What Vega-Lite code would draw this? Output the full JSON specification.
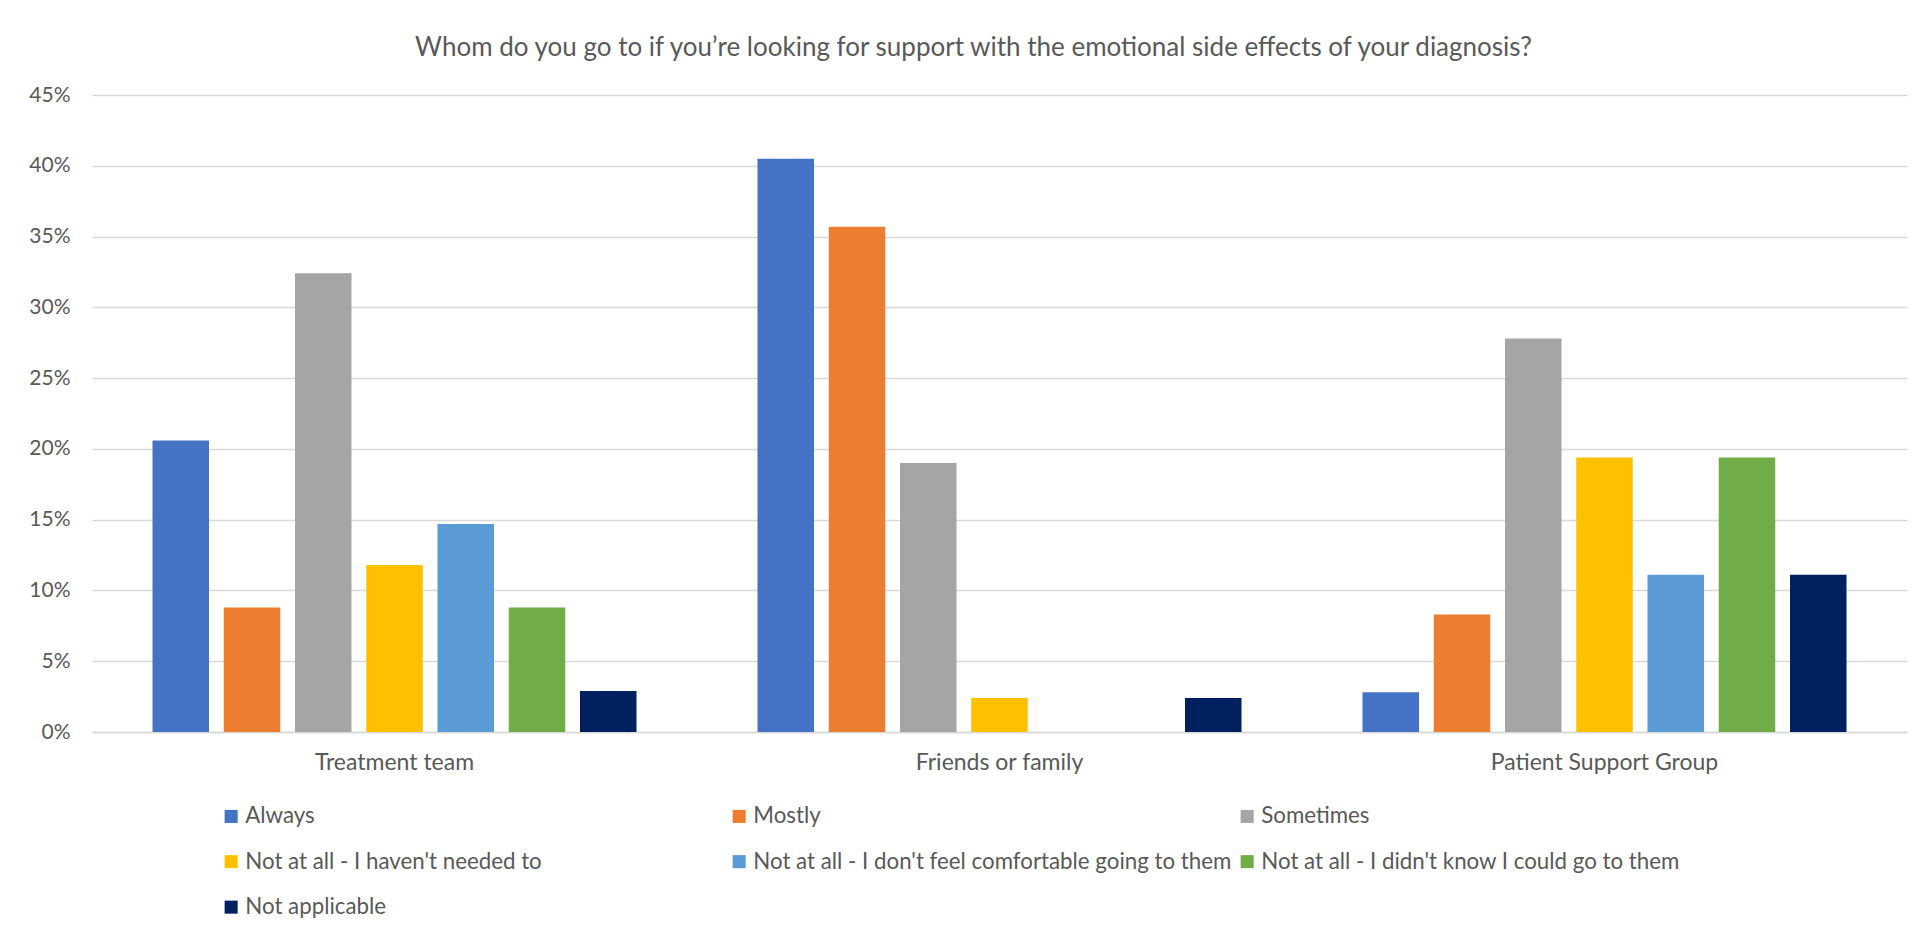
{
  "$schema": "https://vega.github.io/schema/vega-lite/v6.json",
  "width": 1815,
  "height": 637,
  "autosize": {"type": "none"},
  "padding": {"left": 92, "top": 95, "right": 25, "bottom": 203},
  "background": "white",
  "title": {
    "text": "Whom do you go to if you’re looking for support with the emotional side effects of your diagnosis?",
    "font": "Lato",
    "fontSize": 26,
    "fontWeight": "normal",
    "color": "#595959",
    "anchor": "middle",
    "offset": 23,
    "dx": -26
  },
  "data": {
    "values": [
      {"group": "Treatment team", "response": "Always", "share": 0.206},
      {"group": "Treatment team", "response": "Mostly", "share": 0.088},
      {"group": "Treatment team", "response": "Sometimes", "share": 0.324},
      {"group": "Treatment team", "response": "Not at all - I haven't needed to", "share": 0.118},
      {"group": "Treatment team", "response": "Not at all - I don't feel comfortable going to them", "share": 0.147},
      {"group": "Treatment team", "response": "Not at all - I didn't know I could go to them", "share": 0.088},
      {"group": "Treatment team", "response": "Not applicable", "share": 0.029},
      {"group": "Friends or family", "response": "Always", "share": 0.405},
      {"group": "Friends or family", "response": "Mostly", "share": 0.357},
      {"group": "Friends or family", "response": "Sometimes", "share": 0.190},
      {"group": "Friends or family", "response": "Not at all - I haven't needed to", "share": 0.024},
      {"group": "Friends or family", "response": "Not at all - I don't feel comfortable going to them", "share": 0},
      {"group": "Friends or family", "response": "Not at all - I didn't know I could go to them", "share": 0},
      {"group": "Friends or family", "response": "Not applicable", "share": 0.024},
      {"group": "Patient Support Group", "response": "Always", "share": 0.028},
      {"group": "Patient Support Group", "response": "Mostly", "share": 0.083},
      {"group": "Patient Support Group", "response": "Sometimes", "share": 0.278},
      {"group": "Patient Support Group", "response": "Not at all - I haven't needed to", "share": 0.194},
      {"group": "Patient Support Group", "response": "Not at all - I don't feel comfortable going to them", "share": 0.111},
      {"group": "Patient Support Group", "response": "Not at all - I didn't know I could go to them", "share": 0.194},
      {"group": "Patient Support Group", "response": "Not applicable", "share": 0.111}
    ]
  },
  "mark": {"type": "bar"},
  "encoding": {
    "x": {
      "field": "group",
      "type": "nominal",
      "sort": ["Treatment team", "Friends or family", "Patient Support Group"],
      "scale": {"paddingInner": 0.2, "paddingOuter": 0.1},
      "axis": {
        "title": null,
        "labelAngle": 0,
        "labelFont": "Lato",
        "labelFontSize": 23,
        "labelColor": "#595959",
        "labelPadding": 19,
        "labelLimit": 600,
        "ticks": false,
        "domainColor": "#D9D9D9",
        "domainWidth": 1.3
      }
    },
    "xOffset": {
      "field": "response",
      "type": "nominal",
      "sort": ["Always", "Mostly", "Sometimes", "Not at all - I haven't needed to", "Not at all - I don't feel comfortable going to them", "Not at all - I didn't know I could go to them", "Not applicable"],
      "scale": {"paddingInner": 0.207, "paddingOuter": 0}
    },
    "y": {
      "field": "share",
      "type": "quantitative",
      "scale": {"domain": [0, 0.45]},
      "axis": {
        "title": null,
        "values": [0, 0.05, 0.1, 0.15, 0.2, 0.25, 0.3, 0.35, 0.4, 0.45],
        "format": ".0%",
        "labelFont": "Lato",
        "labelFontSize": 21,
        "labelColor": "#595959",
        "labelPadding": 22,
        "ticks": false,
        "domain": false,
        "gridColor": "#D9D9D9",
        "gridWidth": 1.3
      }
    },
    "color": {
      "field": "response",
      "type": "nominal",
      "sort": ["Always", "Mostly", "Sometimes", "Not at all - I haven't needed to", "Not at all - I don't feel comfortable going to them", "Not at all - I didn't know I could go to them", "Not applicable"],
      "scale": {
        "domain": ["Always", "Mostly", "Sometimes", "Not at all - I haven't needed to", "Not at all - I don't feel comfortable going to them", "Not at all - I didn't know I could go to them", "Not applicable"],
        "range": ["#4472C4", "#ED7D31", "#A5A5A5", "#FFC000", "#5B9BD5", "#70AD47", "#002060"]
      },
      "legend": {
        "title": null,
        "orient": "none",
        "legendX": 128,
        "legendY": 710,
        "direction": "horizontal",
        "columns": 3,
        "gridAlign": "all",
        "columnPadding": 4,
        "rowPadding": 22.5,
        "symbolType": "square",
        "symbolSize": 170,
        "symbolStrokeWidth": 0,
        "labelOffset": 3,
        "labelFont": "Lato",
        "labelFontSize": 22.3,
        "labelColor": "#595959",
        "labelLimit": 700
      }
    }
  },
  "config": {
    "view": {"stroke": null}
  }
}
